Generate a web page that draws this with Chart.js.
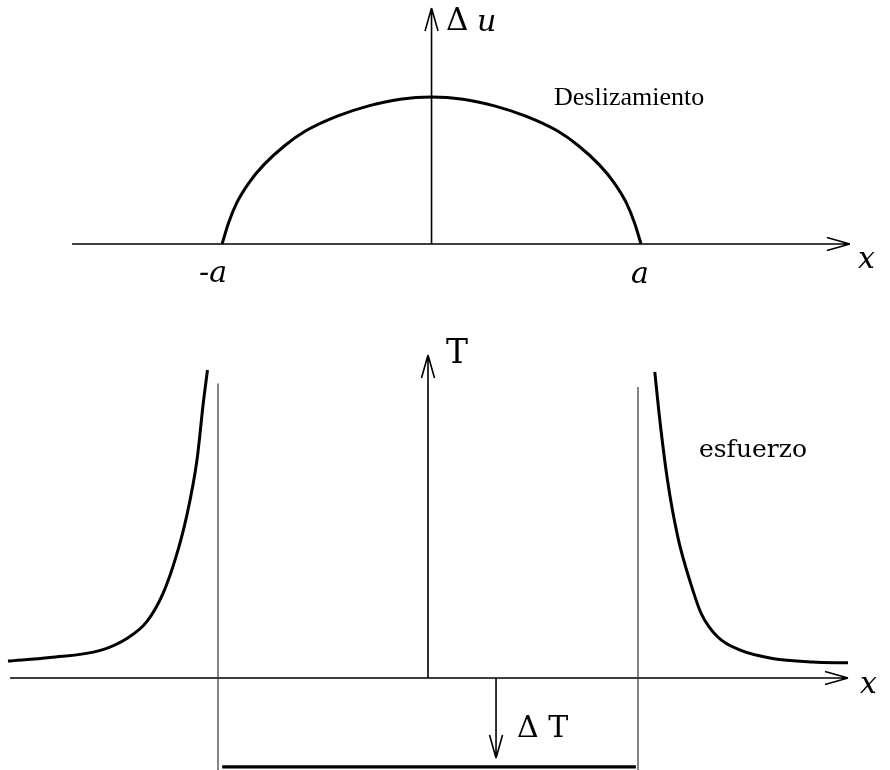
<!DOCTYPE html>
<html>
<head>
<meta charset="utf-8">
<script src="https://cdn.jsdelivr.net/npm/chart.js@4"></script>
<style>
body { margin: 0; background: #fff; }
#wrap { position: relative; width: 890px; height: 770px; }
canvas { position: absolute; left: 0; }
</style>
</head>
<body>
<div id="wrap">
  <canvas id="slipCanvas" width="890" height="330" style="top:0"></canvas>
  <canvas id="stressCanvas" width="890" height="440" style="top:330px"></canvas>
</div>
<script>
// x in units of the half length a of the fault
const slipX = [-1, -0.97, -0.93, -0.87, -0.8, -0.7, -0.6, -0.45, -0.3, -0.15, 0,
               0.15, 0.3, 0.45, 0.6, 0.7, 0.8, 0.87, 0.93, 0.97, 1];
const slipValues = [0, 0.14, 0.28, 0.42, 0.54, 0.67, 0.77, 0.87, 0.94, 0.985, 1,
                    0.985, 0.94, 0.87, 0.77, 0.67, 0.54, 0.42, 0.28, 0.14, 0];

const stressLeftX = [-2.0, -1.8, -1.56, -1.43, -1.34, -1.26, -1.2, -1.15, -1.1, -1.07, -1.05];
const stressLeftValues = [0.19, 0.23, 0.31, 0.45, 0.63, 0.96, 1.36, 1.81, 2.45, 3.09, 3.46];
const stressRightX = [1.08, 1.1, 1.14, 1.19, 1.25, 1.3, 1.38, 1.49, 1.64, 1.83, 2.0];
const stressRightValues = [3.44, 2.98, 2.23, 1.58, 1.07, 0.73, 0.46, 0.31, 0.22, 0.18, 0.17];

const crackTips = [-1, 1];
const tickLabels = ["-a", "a"];
const stressDrop = -1;      // ΔT
const guideTop = [3.31, 3.27];

const pts = (xs, ys) => xs.map((x, i) => ({ x: x, y: ys[i] }));

function arrow(ctx, x1, y1, x2, y2) {
  const len = 23, half = 6.5;
  const a = Math.atan2(y2 - y1, x2 - x1);
  ctx.beginPath();
  ctx.moveTo(x1, y1);
  ctx.lineTo(x2, y2);
  for (const s of [-1, 1]) {
    ctx.moveTo(x2, y2);
    ctx.lineTo(x2 - len * Math.cos(a) - s * half * Math.sin(a),
               y2 - len * Math.sin(a) + s * half * Math.cos(a));
  }
  ctx.stroke();
}

function text(ctx, str, x, y, font, align) {
  ctx.font = font;
  ctx.textAlign = align || "left";
  ctx.textBaseline = "alphabetic";
  ctx.fillText(str, x, y);
}

const serif = '"DejaVu Serif", "Liberation Serif", serif';
const times = '"Liberation Serif", serif';

const baseOptions = (xmin, xmax, ymin, ymax) => ({
  responsive: false,
  animation: false,
  devicePixelRatio: 1,
  layout: { padding: 0 },
  plugins: { legend: { display: false }, tooltip: { enabled: false } },
  elements: { point: { radius: 0 } },
  scales: {
    x: { type: "linear", min: xmin, max: xmax, display: false },
    y: { type: "linear", min: ymin, max: ymax, display: false }
  }
});

// Deslizamiento
new Chart(document.getElementById("slipCanvas"), {
  type: "scatter",
  data: {
    datasets: [{
      data: pts(slipX, slipValues),
      showLine: true,
      borderColor: "#000",
      borderWidth: 3,
      cubicInterpolationMode: "monotone"
    }]
  },
  options: baseOptions(-2.06, 2.1885, -0.585, 1.66),
  plugins: [{
    id: "slipAxes",
    beforeDatasetsDraw(chart) {
      const ctx = chart.ctx, sx = chart.scales.x, sy = chart.scales.y;
      const y0 = sy.getPixelForValue(0), x0 = sx.getPixelForValue(0);
      ctx.save();
      ctx.strokeStyle = "#000";
      ctx.lineWidth = 1.6;
      arrow(ctx, sx.getPixelForValue(-1.716), y0, sx.getPixelForValue(1.997), y0);
      arrow(ctx, x0, y0, x0, sy.getPixelForValue(1.605));
      ctx.fillStyle = "#000";
      text(ctx, tickLabels[0], sx.getPixelForValue(crackTips[0]) + 5, 282, "italic 30px " + serif, "right");
      text(ctx, tickLabels[1], sx.getPixelForValue(crackTips[1]) - 1, 283, "italic 30px " + serif, "center");
      text(ctx, "x", 858, 268, "italic 30px " + serif);
      text(ctx, "\u0394", 446, 30, "31px " + serif);
      text(ctx, "u", 477, 31, "italic 30px " + serif);
      text(ctx, "Deslizamiento", 554, 105, "26px " + times);
      ctx.restore();
    }
  }]
});

// esfuerzo
new Chart(document.getElementById("stressCanvas"), {
  type: "scatter",
  data: {
    datasets: [
      {
        data: pts(stressLeftX, stressLeftValues),
        showLine: true, borderColor: "#000", borderWidth: 3,
        cubicInterpolationMode: "monotone"
      },
      {
        data: pts(stressRightX, stressRightValues),
        showLine: true, borderColor: "#000", borderWidth: 3,
        cubicInterpolationMode: "monotone"
      },
      {
        data: [{ x: crackTips[0], y: guideTop[0] }, { x: crackTips[0], y: -1.1 }],
        showLine: true, borderColor: "#333", borderWidth: 1.2
      },
      {
        data: [{ x: crackTips[1], y: guideTop[1] }, { x: crackTips[1], y: -1.1 }],
        showLine: true, borderColor: "#333", borderWidth: 1.2
      },
      {
        data: [{ x: crackTips[0] + 0.02, y: stressDrop }, { x: crackTips[1] - 0.01, y: stressDrop }],
        showLine: true, borderColor: "#000", borderWidth: 3.2
      }
    ]
  },
  options: baseOptions(-2.038, 2.2, -1.034, 3.91),
  plugins: [{
    id: "stressAxes",
    beforeDatasetsDraw(chart) {
      const ctx = chart.ctx, sx = chart.scales.x, sy = chart.scales.y;
      const y0 = sy.getPixelForValue(0), x0 = sx.getPixelForValue(0);
      ctx.save();
      ctx.strokeStyle = "#000";
      ctx.lineWidth = 1.6;
      arrow(ctx, sx.getPixelForValue(-1.99), y0, sx.getPixelForValue(2.0), y0);
      arrow(ctx, x0, y0, x0, sy.getPixelForValue(3.63));
      const xd = sx.getPixelForValue(0.324);
      arrow(ctx, xd, y0, xd, sy.getPixelForValue(stressDrop * 0.9));
      ctx.fillStyle = "#000";
      text(ctx, "T", 446, 33, "33px " + serif);
      text(ctx, "x", 860, 363, "italic 30px " + serif);
      text(ctx, "\u0394 T", 517, 407, "30px " + serif);
      text(ctx, "esfuerzo", 699, 127, "25px " + serif);
      ctx.restore();
    }
  }]
});
</script>
</body>
</html>
